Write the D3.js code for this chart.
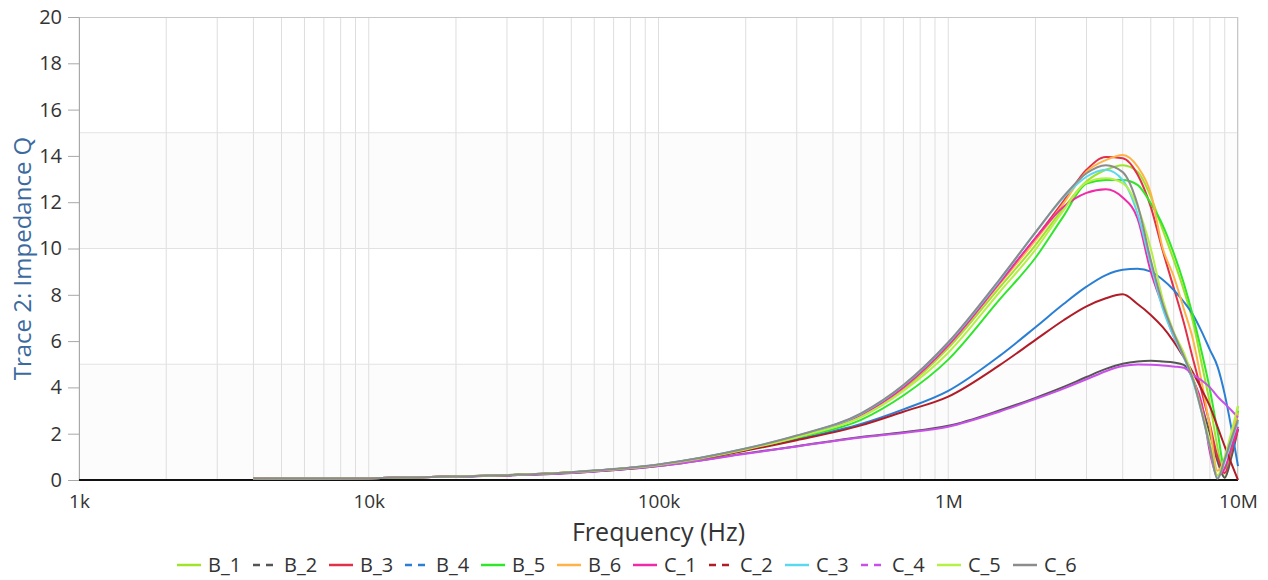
<!DOCTYPE html>
<html>
<head>
<meta charset="utf-8">
<script src="https://cdn.jsdelivr.net/npm/d3@7"></script>
<style>
  body { margin: 0; background: #fff; }
  svg { display: block; font-family: "Open Sans", sans-serif; }
</style>
</head>
<body>
<div id="chart"></div>
<script>
// frequency points (Hz) shared by every trace
const freqs = [4e3, 1e4, 2e4, 5e4, 1e5, 2e5, 3e5, 5e5, 7e5, 1e6, 1.5e6, 2e6, 2.5e6, 3e6, 3.5e6, 4e6,
    4.5e6, 5e6, 5.5e6, 6e6, 6.5e6, 7e6, 7.5e6, 8e6, 8.5e6, 9e6, 9.5e6, 1e7];

// impedance Q
const b1 = [0.05, 0.08, 0.15, 0.33, 0.65, 1.32, 1.85, 2.76, 3.92, 5.7, 8.3, 10.15, 11.75, 12.9, 13.4, 13.6,
    13.32, 12.24, 10.8, 9.5, 8.2, 6.8, 5.0, 3.3, 1.4, 0.1, 1.6, 3.2];
const b2 = [0.05, 0.08, 0.15, 0.3, 0.6, 1.15, 1.46, 1.86, 2.06, 2.34, 3.0, 3.55, 4.02, 4.45, 4.8, 5.02,
    5.12, 5.15, 5.12, 5.08, 4.97, 4.33, 3.2, 2.0, 0.8, 0.1, 1.0, 2.2];
const b3 = [0.05, 0.08, 0.15, 0.33, 0.66, 1.34, 1.89, 2.84, 4.02, 5.85, 8.5, 10.45, 12.05, 13.4, 13.95, 13.9,
    13.2, 11.8, 9.9, 8.3, 6.8, 5.2, 3.8, 2.4, 1.0, 0.3, 1.2, 2.2];
const b4 = [0.05, 0.08, 0.15, 0.32, 0.64, 1.3, 1.76, 2.42, 3.05, 3.85, 5.35, 6.6, 7.6, 8.35, 8.85, 9.08,
    9.12, 9.0, 8.65, 8.21, 7.7, 7.13, 6.4, 5.62, 4.9, 3.7, 2.2, 0.6];
const b5 = [0.05, 0.08, 0.15, 0.32, 0.64, 1.3, 1.82, 2.6, 3.65, 5.2, 7.78, 9.6, 11.4, 12.8, 12.96, 12.96,
    12.75, 11.95, 11.0, 9.8, 8.5, 7.06, 5.5, 3.9, 2.1, 0.5, 1.4, 3.0];
const b6 = [0.05, 0.08, 0.15, 0.33, 0.66, 1.33, 1.87, 2.8, 3.98, 5.8, 8.45, 10.35, 11.95, 13.32, 13.82, 14.04,
    13.54, 12.38, 10.0, 8.8, 7.4, 6.05, 4.2, 2.3, 0.4, 0.9, 1.9, 2.9];
const c1 = [0.05, 0.08, 0.15, 0.33, 0.66, 1.34, 1.88, 2.82, 4.0, 5.82, 8.5, 10.45, 11.8, 12.4, 12.56, 12.2,
    11.3, 9.0, 7.5, 6.2, 5.34, 4.33, 3.3, 1.2, 0.2, 0.5, 1.4, 2.3];
const c2 = [0.05, 0.08, 0.15, 0.32, 0.63, 1.27, 1.72, 2.36, 2.95, 3.6, 4.95, 6.05, 6.9, 7.5, 7.85, 8.02,
    7.6, 7.13, 6.6, 5.98, 5.3, 4.62, 3.9, 3.18, 2.3, 1.45, 0.7, 0.0];
const c3 = [0.05, 0.08, 0.15, 0.34, 0.67, 1.36, 1.91, 2.86, 4.08, 5.92, 8.6, 10.7, 12.2, 13.1, 13.4, 12.95,
    11.5, 9.3, 7.4, 6.2, 5.3, 4.25, 2.9, 1.4, 0.1, 0.8, 1.7, 2.5];
const c4 = [0.05, 0.08, 0.15, 0.3, 0.6, 1.13, 1.45, 1.84, 2.03, 2.3, 2.95, 3.5, 3.95, 4.35, 4.7, 4.92,
    4.99, 4.98, 4.95, 4.9, 4.85, 4.54, 4.3, 4.0, 3.6, 3.3, 3.0, 2.7];
const c5 = [0.05, 0.08, 0.15, 0.33, 0.65, 1.32, 1.85, 2.72, 3.85, 5.5, 8.1, 9.95, 11.65, 12.85, 13.03, 12.82,
    11.8, 10.0, 7.8, 6.4, 5.5, 4.4, 3.0, 1.6, 0.2, 1.0, 2.1, 3.2];
const c6 = [0.05, 0.08, 0.15, 0.34, 0.67, 1.36, 1.92, 2.88, 4.1, 5.95, 8.65, 10.7, 12.25, 13.25, 13.6, 13.3,
    11.9, 9.5, 7.6, 6.34, 5.34, 4.33, 2.9, 1.45, 0.05, 0.9, 1.8, 2.6];

const names = ["B_1", "B_2", "B_3", "B_4", "B_5", "B_6", "C_1", "C_2", "C_3", "C_4", "C_5", "C_6"];
const values = [b1, b2, b3, b4, b5, b6, c1, c2, c3, c4, c5, c6];
const colors = ["#9fe32a", "#555555", "#e0304a", "#2a7fd4", "#2fe62a", "#ffb347", "#f02aa8", "#b01c28",
    "#5ad8f2", "#c94fe8", "#b6ef45", "#8c8c8c"];
const dashed = [false, true, false, true, false, false, false, true, false, true, false, false];

const xTicks = [1e3, 1e4, 1e5, 1e6, 1e7];
const xTickLabels = ["1k", "10k", "100k", "1M", "10M"];
const yTicks = d3.range(0, 21, 2);
const yBands = [0, 5, 10, 15, 20];

const width = 1268, height = 580;
const mLeft = 79, mRight = 1238, mTop = 17, mBottom = 480;

const x = d3.scaleLog().domain([1e3, 1e7]).range([mLeft, mRight]);
const y = d3.scaleLinear().domain([0, 20]).range([mBottom, mTop]);

const svg = d3.select("#chart").append("svg")
    .attr("width", width)
    .attr("height", height);

// faint alternating bands
svg.append("g").selectAll("rect")
    .data(d3.pairs(yBands))
    .join("rect")
    .attr("x", mLeft)
    .attr("width", mRight - mLeft)
    .attr("y", d => y(d[1]))
    .attr("height", d => y(d[0]) - y(d[1]))
    .attr("fill", (d, i) => i % 2 === 0 ? "#fcfcfc" : "#fff");

// vertical grid on every 1..9 of each decade
const minor = [];
for (let dec = 1e3; dec < 1e7; dec *= 10) {
    for (let k = 1; k < 10; k++) minor.push(dec * k);
}
minor.push(1e7);
svg.append("g").selectAll("line")
    .data(minor)
    .join("line")
    .attr("x1", d => x(d)).attr("x2", d => x(d))
    .attr("y1", mTop).attr("y2", mBottom)
    .attr("stroke", "#dedede")
    .attr("stroke-width", 1);

// horizontal grid at 5, 10, 15
svg.append("g").selectAll("line")
    .data([5, 10, 15])
    .join("line")
    .attr("x1", mLeft).attr("x2", mRight)
    .attr("y1", d => y(d)).attr("y2", d => y(d))
    .attr("stroke", "#e2e2e2");

// frame
svg.append("line").attr("x1", mLeft).attr("x2", mRight).attr("y1", mTop + 0.5).attr("y2", mTop + 0.5)
    .attr("stroke", "#c8c8c8");
svg.append("line").attr("x1", mRight - 0.5).attr("x2", mRight - 0.5).attr("y1", mTop).attr("y2", mBottom)
    .attr("stroke", "#c8c8c8");

// y axis
const yAxis = svg.append("g")
    .attr("transform", `translate(${mLeft},0)`)
    .call(d3.axisLeft(y).tickValues(yTicks).tickSize(11).tickPadding(6));
yAxis.select(".domain").attr("stroke", "#a8a8a8");
yAxis.selectAll(".tick line").attr("stroke", "#a8a8a8");
yAxis.selectAll(".tick text")
    .attr("font-family", "Open Sans, sans-serif")
    .attr("font-size", 20)
    .attr("fill", "#333");

// x axis
const xAxis = svg.append("g")
    .attr("transform", `translate(0,${mBottom})`)
    .call(d3.axisBottom(x).tickValues(xTicks).tickFormat((d, i) => xTickLabels[i]).tickSize(0).tickPadding(15));
xAxis.select(".domain").remove();
xAxis.selectAll(".tick text")
    .attr("font-family", "Open Sans, sans-serif")
    .attr("font-size", 19)
    .attr("fill", "#333");

// baseline
svg.append("line")
    .attr("x1", mLeft).attr("x2", mRight)
    .attr("y1", mBottom).attr("y2", mBottom)
    .attr("stroke", "#111")
    .attr("stroke-width", 2);

// traces
const line = d3.line()
    .x((d, i) => x(freqs[i]))
    .y(d => y(d))
    .curve(d3.curveMonotoneX);

svg.append("g")
    .attr("fill", "none")
    .selectAll("path")
    .data(values)
    .join("path")
    .attr("d", line)
    .attr("stroke", (d, i) => colors[i])
    .attr("stroke-width", 2)
    .attr("stroke-linejoin", "round");

// axis titles
svg.append("text")
    .attr("x", (mLeft + mRight) / 2)
    .attr("y", 541)
    .attr("text-anchor", "middle")
    .attr("font-size", 25)
    .attr("fill", "#333")
    .text("Frequency (Hz)");

svg.append("text")
    .attr("transform", `translate(31,${(mTop + mBottom) / 2 + 10}) rotate(-90)`)
    .attr("text-anchor", "middle")
    .attr("font-size", 24)
    .attr("fill", "#3b6a9e")
    .text("Trace 2: Impedance Q");

// legend
const legend = svg.append("g").selectAll("g")
    .data(names)
    .join("g")
    .attr("transform", (d, i) => `translate(${177 + i * 76},565)`);

legend.append("line")
    .attr("x1", 0).attr("x2", 24)
    .attr("stroke", (d, i) => colors[i])
    .attr("stroke-width", 2.5)
    .attr("stroke-dasharray", (d, i) => dashed[i] ? "7,6" : null);

legend.append("text")
    .attr("x", 31)
    .attr("dy", "0.35em")
    .attr("font-size", 20)
    .attr("fill", "#333")
    .text(d => d);
</script>
</body>
</html>
